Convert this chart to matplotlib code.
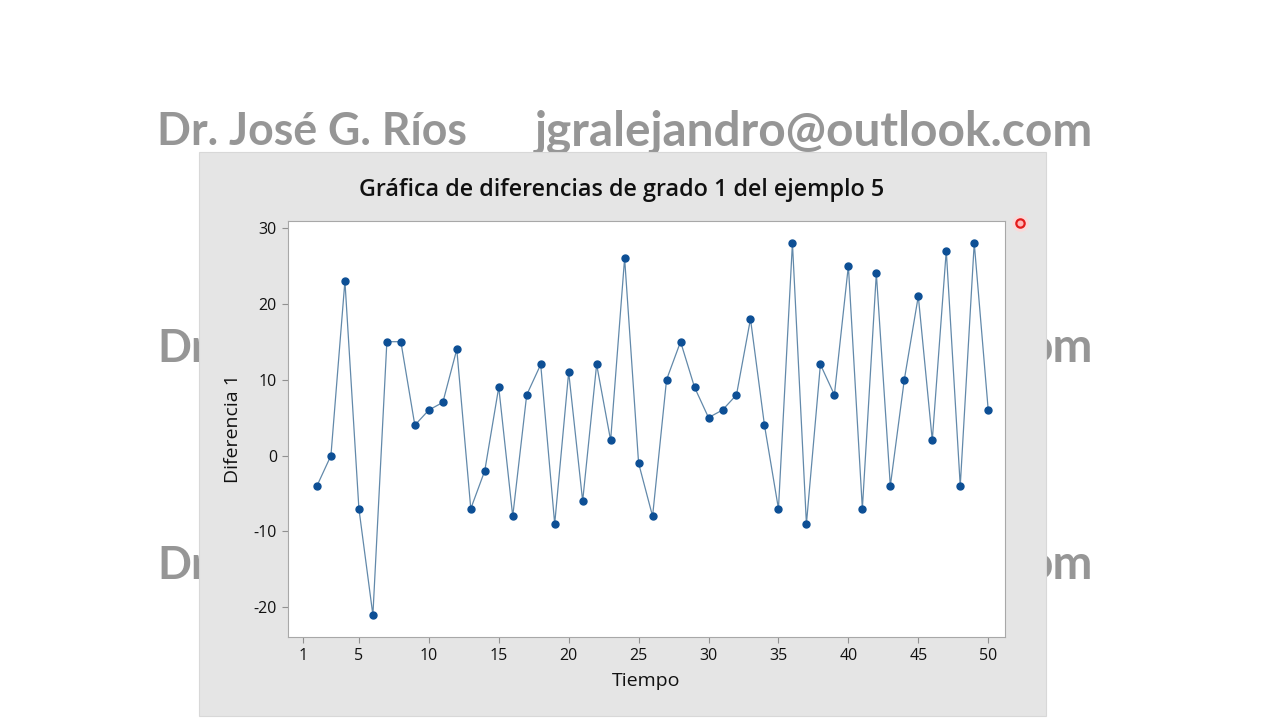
import matplotlib
matplotlib.use('Agg')
import matplotlib.pyplot as plt
from matplotlib.patches import Rectangle
from matplotlib.lines import Line2D

# data (first differences, t = 2..50)
tiempo = list(range(2, 51))
diferencia = [-4, 0, 23, -7, -21, 15, 15, 4, 6, 7,
              14, -7, -2, 9, -8, 8, 12, -9, 11, -6,
              12, 2, 26, -1, -8, 10, 15, 9, 5, 6,
              8, 18, 4, -7, 28, -9, 12, 8, 25, -7,
              24, -4, 10, 21, 2, 27, -4, 28, 6]
xticks = [1, 5, 10, 15, 20, 25, 30, 35, 40, 45, 50]
yticks = [-20, -10, 0, 10, 20, 30]

titulo = 'Gráfica de diferencias de grado 1 del ejemplo 5'
marca_nombre = 'Dr. José G. Ríos'
marca_correo = 'jgralejandro@outlook.com'

plt.rcParams['font.family'] = ['Open Sans', 'DejaVu Sans']
plt.rcParams['axes.unicode_minus'] = False

fig = plt.figure(figsize=(12.8, 7.2), dpi=100)
fig.patch.set_facecolor('white')

W, H = 1280.0, 720.0

# watermark: full line on top, only the visible ends on the hidden rows
wm = dict(color='#969696', family=['Lato', 'DejaVu Sans'], fontweight='bold',
          va='baseline', zorder=-3)
t1 = fig.text(157 / W, 1 - 145 / H, marca_nombre, ha='left', fontsize=36, **wm)
t2 = fig.text(1093 / W, 1 - 145 / H, marca_correo, ha='right', fontsize=36, **wm)
# fit each part to the width it has in the reference
r = fig.canvas.get_renderer()
fs1 = 36 * 310 / t1.get_window_extent(r).width
fs2 = 36 * 557 / t2.get_window_extent(r).width
t1.set_fontsize(fs1)
t2.set_fontsize(fs2)
for yb in [362, 579]:
    fig.text(157 / W, 1 - yb / H, marca_nombre[:2], ha='left', fontsize=fs1, **wm)
    fig.text(1093 / W, 1 - yb / H, marca_correo[-2:], ha='right', fontsize=fs2, **wm)

# grey chart panel
fig.patches.append(Rectangle((199 / W, 1 - 716 / H), (1046 - 199) / W, (716 - 152) / H,
                             transform=fig.transFigure, facecolor='#e5e5e5',
                             edgecolor='#d8d8d8', lw=0.8, zorder=-2))
# cursor highlight
fig.add_artist(Line2D([1020 / W], [1 - 223 / H], transform=fig.transFigure, marker='o',
                      ms=12, mfc='#ffd6d6', mec='none', alpha=0.8, zorder=-1))
fig.add_artist(Line2D([1020 / W], [1 - 223 / H], transform=fig.transFigure, marker='o',
                      ms=6, mfc='#ffb8b8', mec='#e31b1b', mew=1.6, zorder=-1))

ax = fig.add_axes([288 / W, 1 - 637 / H, (1005 - 288) / W, (637 - 221) / H])
ax.set_facecolor('white')
ax.plot(tiempo, diferencia, color='#6289aa', lw=0.9, marker='o', markersize=5,
        markerfacecolor='#0d4f95', markeredgecolor='#0d4f95')

ax.set_xlim(-0.07, 51.2)
ax.set_ylim(-23.9, 30.9)
ax.set_xticks(xticks)
ax.set_yticks(yticks)
ax.tick_params(axis='both', direction='out', length=4, color='#909090',
               labelsize=11.5, labelcolor='#111111', pad=4)
for s in ax.spines.values():
    s.set_color('#a8a8a8')
    s.set_linewidth(0.8)

ax.set_xlabel('Tiempo', fontsize=14, color='#111111', labelpad=6)
ax.set_ylabel('Diferencia 1', fontsize=14, color='#111111', labelpad=8)

fig.text(622 / W, 1 - 190 / H, titulo, fontsize=16.8, fontweight='semibold',
         color='#111111', ha='center', va='center')

fig.savefig('out.png', dpi=100, facecolor=fig.get_facecolor())
